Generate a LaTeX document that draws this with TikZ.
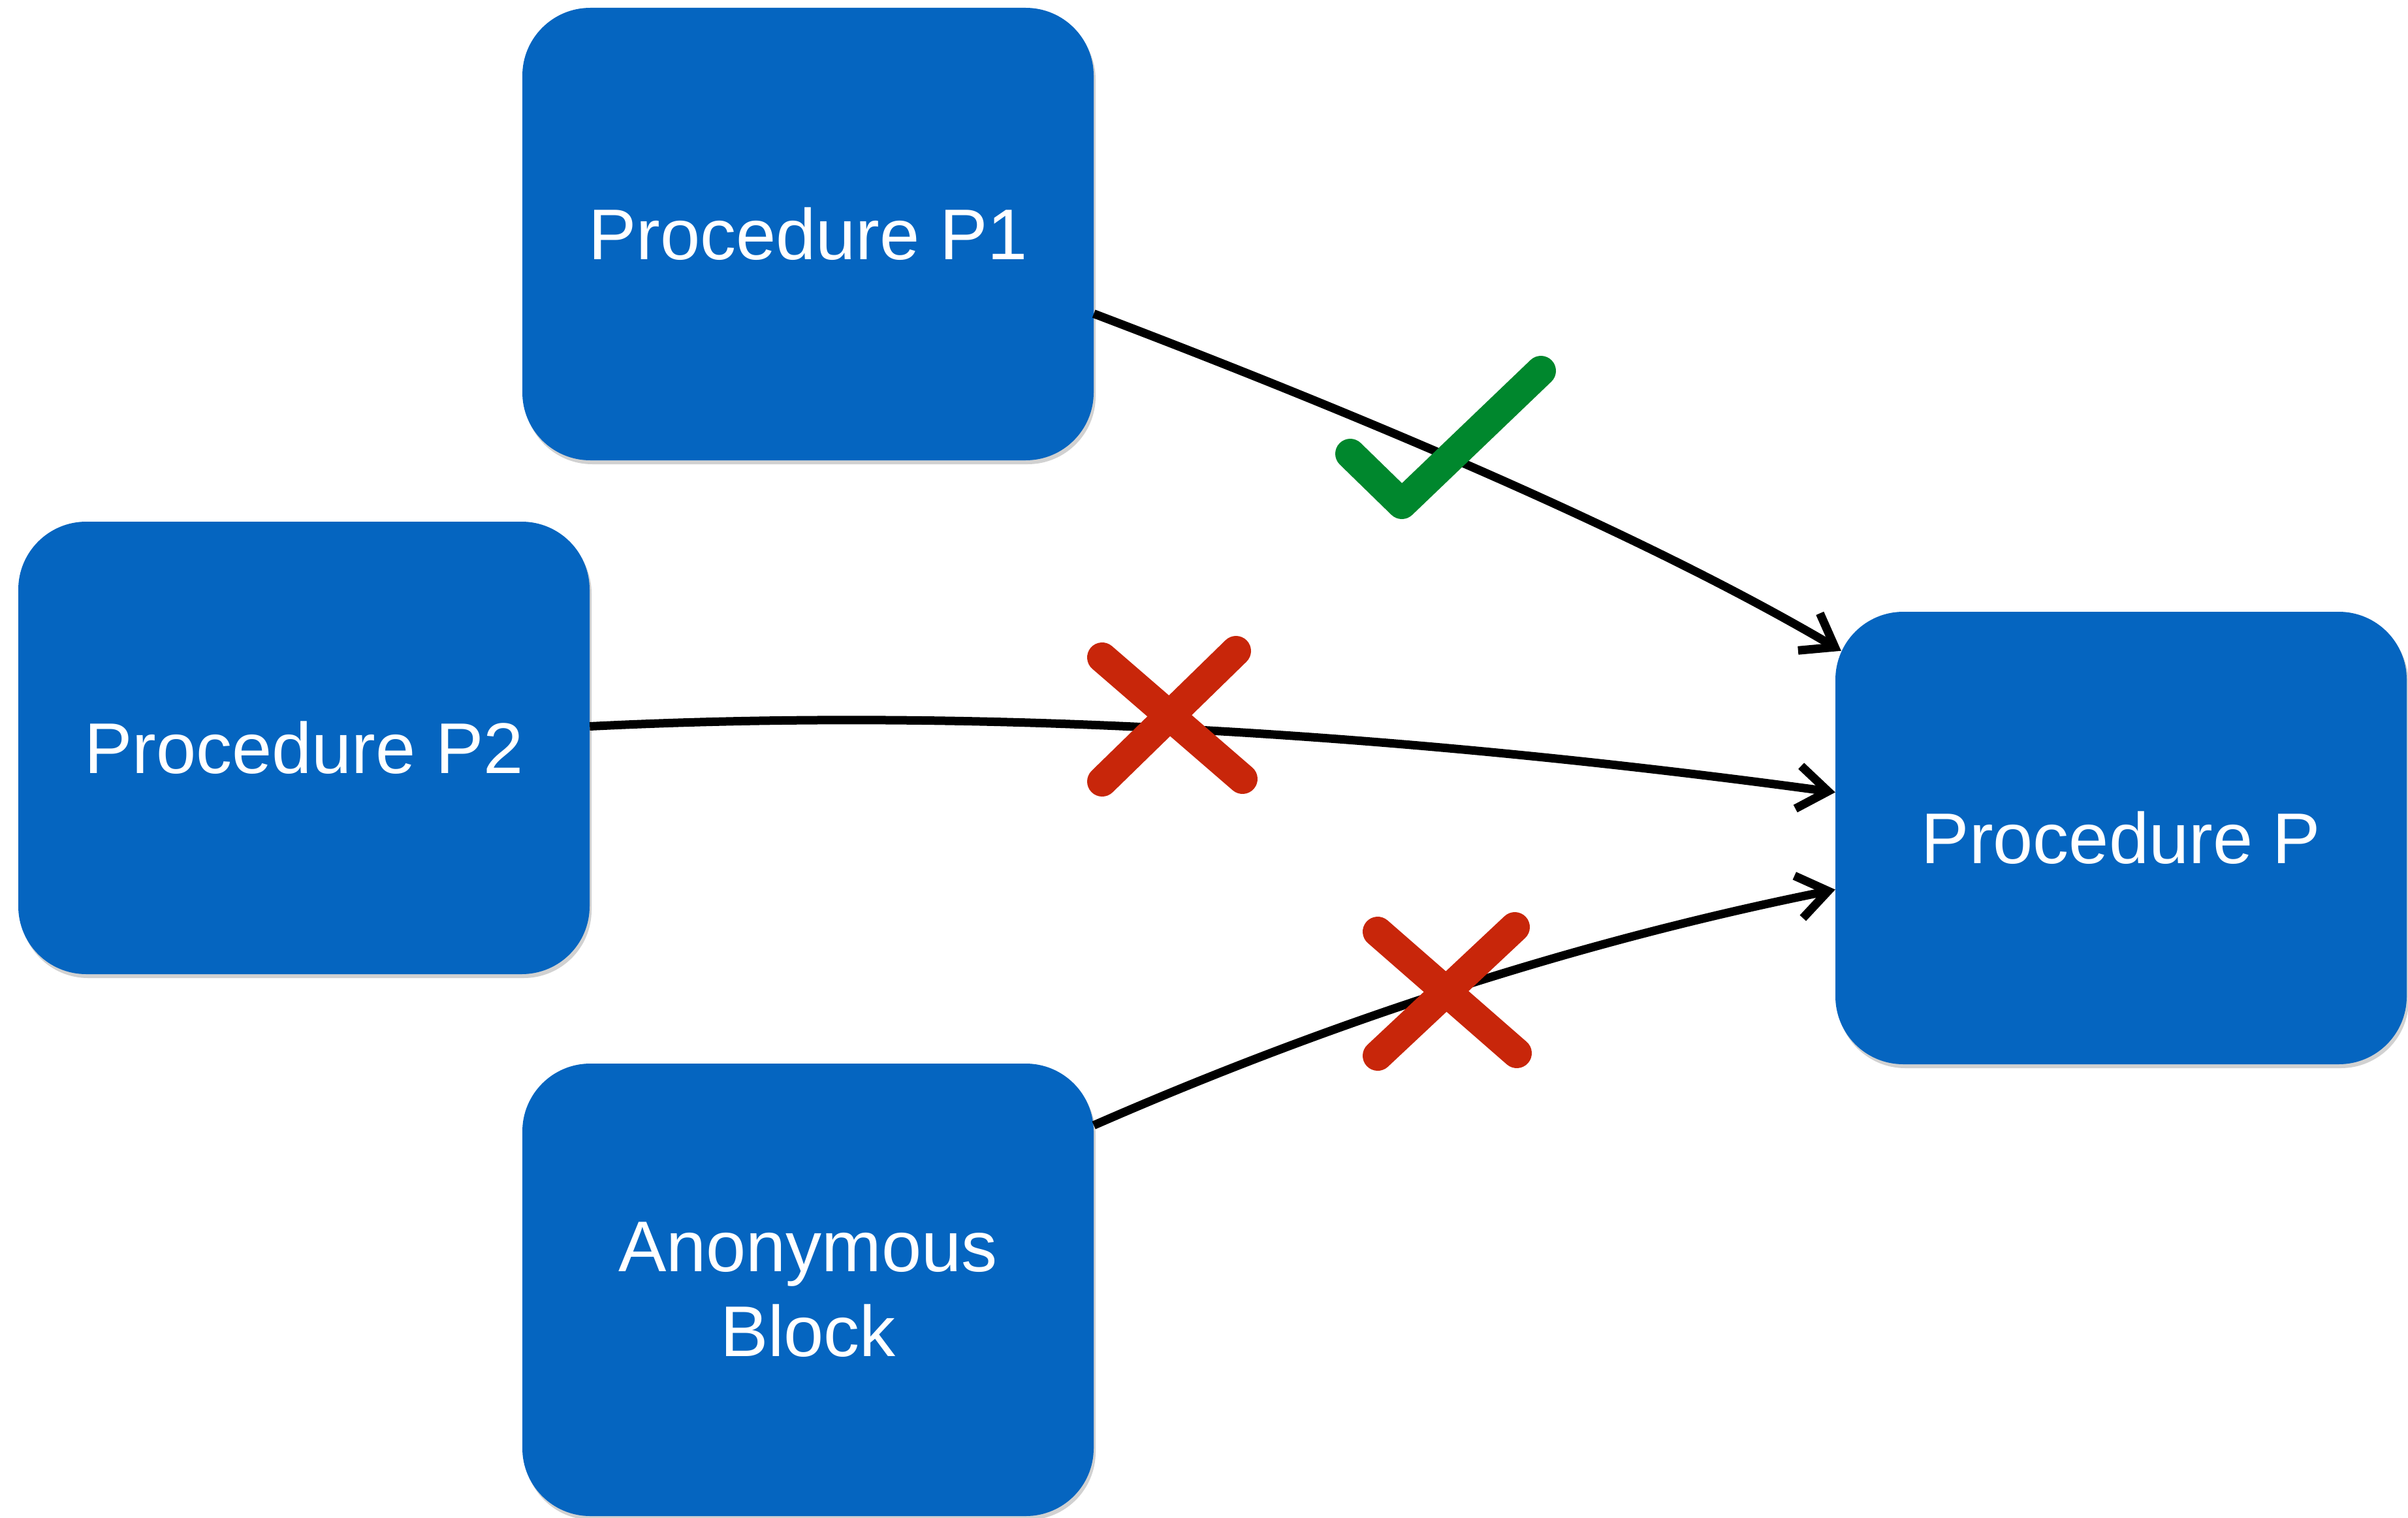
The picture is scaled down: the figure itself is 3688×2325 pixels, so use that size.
\documentclass[tikz,border=0pt]{standalone}
\usepackage{fontspec}
\setmainfont{Liberation Sans}
\usetikzlibrary{arrows.meta,shadows,calc}
\definecolor{boxblue}{RGB}{5,101,192}
\definecolor{okgreen}{RGB}{0,135,45}
\definecolor{nored}{RGB}{200,38,10}
\tikzset{
  procbox/.style={rectangle, rounded corners=104pt, fill=boxblue, draw=none,
    minimum width=875pt, minimum height=693pt, inner sep=0pt,
    text=white, align=center, font=\fontsize{110}{130}\selectfont,
    drop shadow={shadow xshift=3pt, shadow yshift=-6pt, opacity=0.3, fill=black!60}},
  callarrow/.style={line width=13pt, draw=black,
    -{Straight Barb[length=46pt,width=66pt,line width=13pt]}},
  markstroke/.style={line width=46pt, line cap=round, line join=round}
}
\begin{document}
\begin{tikzpicture}[x=1pt,y=-1pt]
\useasboundingbox (0,0) rectangle (3688,2325);
\node[procbox] (p1) at (1237.5,358.5) {Procedure P1};
\node[procbox] (p2) at (465.5,1145.5) {Procedure P2};
\node[procbox] (anon) at (1237.5,1975.5) {Anonymous\\Block};
\node[procbox] (p) at (3248.5,1283.5) {Procedure P};

\coordinate (s1) at ($(p1.east)+(0,122)$);
\coordinate (s2) at ($(p2.east)+(0,-33)$);
\coordinate (s3) at ($(anon.east)+(0,-252)$);
\coordinate (e1) at ($(p.north west)+(9,60)$);
\coordinate (e2) at ($(p.west)+(0,-70)$);
\coordinate (e3) at ($(p.west)+(0,79)$);

\draw[callarrow] (s1) .. controls (2174,670) and (2555,841) .. (e1);
\draw[callarrow] (s2) .. controls (1478,1084) and (2114,1119) .. (e2);
\draw[callarrow] (s3) .. controls (2042,1563) and (2420,1441) .. (e3);

% check mark
\draw[markstroke, okgreen] (2068,695) -- (2147,772) -- (2360,568);
% crosses
\draw[markstroke, nored] (1688,1007) -- (1903,1193);
\draw[markstroke, nored] (1893,997) -- (1688,1197);
\draw[markstroke, nored] (2110,1427) -- (2323,1613);
\draw[markstroke, nored] (2320,1420) -- (2110,1617);
\end{tikzpicture}
\end{document}
